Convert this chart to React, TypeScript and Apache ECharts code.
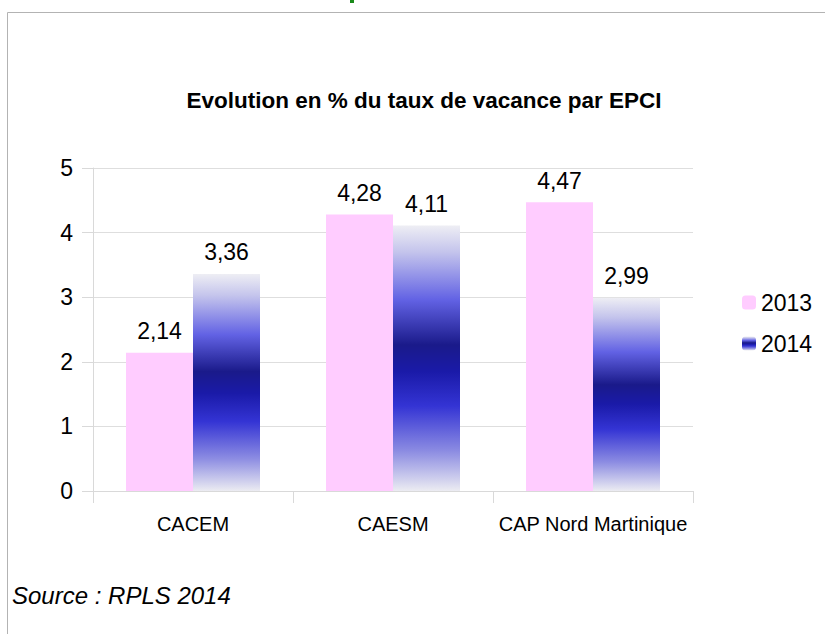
import React, { useEffect, useRef } from 'react';
import * as echarts from 'echarts';

const categories = ['CACEM', 'CAESM', 'CAP Nord Martinique'];
const seriesNames = ['2013', '2014'];
const values2013 = [2.14, 4.28, 4.47];
const values2014 = [3.36, 4.11, 2.99];
const yMin = 0;
const yMax = 5;
const yInterval = 1;

const FONT = '"Liberation Sans", Arial, sans-serif';

const fmt = (v: number) => v.toFixed(2).replace('.', ',');

export default function App() {
  const ref = useRef<HTMLDivElement>(null);
  useEffect(() => {
    if (!ref.current) return;
    const chart = echarts.init(ref.current, undefined, { renderer: 'svg' });
    const blueGrad = new echarts.graphic.LinearGradient(0, 0, 0, 1, [
      { offset: 0, color: '#eeeef4' },
      { offset: 0.1, color: '#c4c4ec' },
      { offset: 0.28, color: '#6262e4' },
      { offset: 0.45, color: '#1a1a8a' },
      { offset: 0.55, color: '#1a1aa8' },
      { offset: 0.68, color: '#3434d4' },
      { offset: 0.85, color: '#8c8ce2' },
      { offset: 1, color: '#ececf2' },
    ]);
    chart.setOption({
      animation: false,
      backgroundColor: '#ffffff',
      textStyle: { fontFamily: FONT },
      graphic: [
        { type: 'line', shape: { x1: 7.5, y1: 12.5, x2: 825, y2: 12.5 }, style: { stroke: '#b3b3b3', lineWidth: 1 } },
        { type: 'line', shape: { x1: 7.5, y1: 12.5, x2: 7.5, y2: 634 }, style: { stroke: '#b3b3b3', lineWidth: 1 } },
        { type: 'rect', shape: { x: 350, y: 0, width: 4, height: 3 }, style: { fill: '#1a8a1a' } },
        {
          type: 'text', x: 424, y: 100,
          style: { text: 'Evolution en % du taux de vacance par EPCI', fill: '#000', font: `bold 22.5px ${FONT}`, textAlign: 'center', textVerticalAlign: 'middle' },
        },
        {
          type: 'text', x: 12, y: 595,
          style: { text: 'Source : RPLS 2014', fill: '#000', font: `italic 24px ${FONT}`, textAlign: 'left', textVerticalAlign: 'middle' },
        },
      ],
      legend: {
        orient: 'vertical',
        left: 737,
        top: 286,
        itemWidth: 14,
        itemHeight: 14,
        itemGap: 18,
        data: seriesNames,
        textStyle: { fontSize: 23, color: '#000', fontFamily: FONT },
      },
      grid: { left: 93, right: 132, top: 168, bottom: 143, containLabel: false },
      xAxis: {
        type: 'category',
        data: categories,
        axisLine: { show: true, lineStyle: { color: '#d9d9d9' } },
        axisTick: { show: true, length: 12, lineStyle: { color: '#d9d9d9' } },
        axisLabel: { interval: 0, fontSize: 20, color: '#000', margin: 23, fontFamily: FONT },
      },
      yAxis: {
        type: 'value',
        min: yMin,
        max: yMax,
        interval: yInterval,
        axisLine: { show: true, lineStyle: { color: '#d9d9d9' } },
        axisTick: { show: true, length: 11, lineStyle: { color: '#d9d9d9' } },
        axisLabel: { fontSize: 23, color: '#000', margin: 20, fontFamily: FONT },
        splitLine: { show: true, lineStyle: { color: '#dedede' } },
      },
      series: [
        {
          name: seriesNames[0],
          type: 'bar',
          data: values2013,
          barGap: '0%',
          barCategoryGap: '33%',
          itemStyle: { color: '#ffccff' },
          label: { show: true, position: 'top', distance: 10, fontSize: 23, color: '#000', fontFamily: FONT, formatter: (p: any) => fmt(p.value) },
        },
        {
          name: seriesNames[1],
          type: 'bar',
          data: values2014,
          barGap: '0%',
          barCategoryGap: '33%',
          itemStyle: { color: blueGrad },
          label: { show: true, position: 'top', distance: 10, fontSize: 23, color: '#000', fontFamily: FONT, formatter: (p: any) => fmt(p.value) },
        },
      ],
    });
    return () => chart.dispose();
  }, []);
  return <div ref={ref} style={{ position: 'fixed', left: 0, top: 0, width: 825, height: 634 }} />;
}
